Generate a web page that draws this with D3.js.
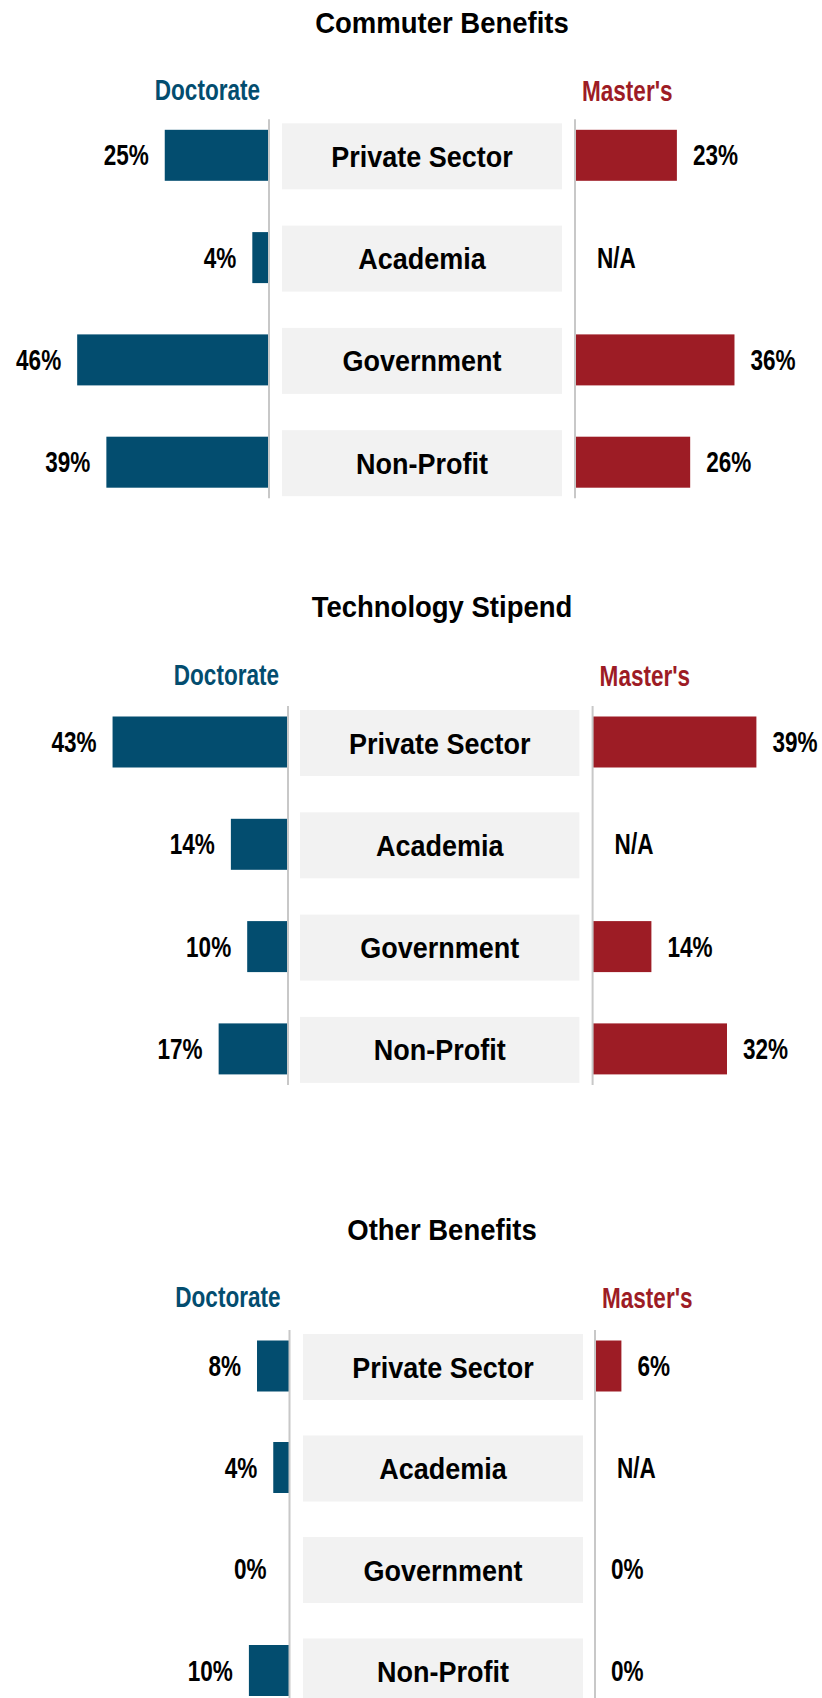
<!DOCTYPE html>
<html>
<head>
<meta charset="utf-8">
<script src="https://cdn.jsdelivr.net/npm/d3@7"></script>
<style>
  html, body { margin: 0; padding: 0; background: #ffffff; }
  svg { display: block; }
</style>
</head>
<body>
<svg id="chart" width="822" height="1698"></svg>
<script>
// Data
const categories = ["Private Sector", "Academia", "Government", "Non-Profit"];
const panelTitles = ["Commuter Benefits", "Technology Stipend", "Other Benefits"];
const seriesNames = ["Doctorate", "Master's"];
const doctorateValues = [
    [25, 4, 46, 39],
    [43, 14, 10, 17],
    [8, 4, 0, 10]
];
const mastersValues = [
    [23, null, 36, 26],
    [39, null, 14, 32],
    [6, null, 0, 0]
];

// Layout of each panel (pixel positions, not data)
const panelLayout = [
    { titleY: 33, headerY: 100, rowTop: 123.3, axisL: 269, axisR: 575, boxL: 282, boxR: 562, pxL: 4.17, pxR: 4.43, pitch: 102.3 },
    { titleY: 617, headerY: 685, rowTop: 710, axisL: 288, axisR: 592.6, boxL: 300, boxR: 579.4, pxL: 4.08, pxR: 4.2, pitch: 102.3 },
    { titleY: 1240, headerY: 1307, rowTop: 1334, axisL: 289.5, axisR: 595, boxL: 303, boxR: 583, pxL: 4.06, pxR: 4.4, pitch: 101.5 }
];

const TITLE_X = 442;
const COLOR_DOC = "#034d6f";
const COLOR_MAS = "#9d1c25";
const BOX_FILL = "#f2f2f2";
const AXIS_COLOR = "#c8c8c8";
const FONT = "'Liberation Sans', Arial, Helvetica, sans-serif";
const NARROW = 0.82;   // horizontal squeeze to mimic Arial Narrow
const TALL = 1.06;     // the reference text is slightly stretched vertically

const svg = d3.select("#chart");
svg.append("rect").attr("width", 822).attr("height", 1698).attr("fill", "#ffffff");

// bold text, scaled around its anchor point
function boldText(g, x, y, anchor, text, fill, size, sx) {
    g.append("text")
        .attr("transform", `translate(${x},${y}) scale(${sx},${TALL})`)
        .attr("text-anchor", anchor)
        .attr("font-family", FONT)
        .attr("font-weight", "bold")
        .attr("font-size", size)
        .attr("fill", fill)
        .text(text);
}

panelTitles.forEach((title, p) => {
    const L = panelLayout[p];
    const g = svg.append("g").attr("class", "panel");
    const docVals = doctorateValues[p];
    const masVals = mastersValues[p];

    const boxH = 66;
    const paddingInner = (L.pitch - boxH) / L.pitch;
    const y = d3.scaleBand()
        .domain(categories)
        .range([L.rowTop, L.rowTop + L.pitch * (categories.length - paddingInner)])
        .paddingInner(paddingInner)
        .paddingOuter(0);

    const xLeft = d3.scaleLinear().domain([0, 100]).range([L.axisL, L.axisL - 100 * L.pxL]);
    const xRight = d3.scaleLinear().domain([0, 100]).range([L.axisR, L.axisR + 100 * L.pxR]);

    // title
    boldText(g, TITLE_X, L.titleY, "middle", title, "#000000", 27.5, 1);

    // series headers
    boldText(g, L.axisL - 9, L.headerY, "end", seriesNames[0], COLOR_DOC, 27.5, NARROW);
    boldText(g, L.axisR + 7, L.headerY + 1, "start", seriesNames[1], COLOR_MAS, 27.5, NARROW);

    // category boxes
    categories.forEach((cat) => {
        g.append("rect")
            .attr("x", L.boxL)
            .attr("y", y(cat))
            .attr("width", L.boxR - L.boxL)
            .attr("height", y.bandwidth())
            .attr("fill", BOX_FILL);

        boldText(g, (L.boxL + L.boxR) / 2, y(cat) + y.bandwidth() / 2 + 10.5,
            "middle", cat, "#000000", 27, 1);
    });

    const barH = 51;

    // Doctorate bars (left)
    categories.forEach((cat, i) => {
        const v = docVals[i];
        const cy = y(cat) + y.bandwidth() / 2 - 1;
        if (v > 0) {
            g.append("rect")
                .attr("x", xLeft(v))
                .attr("y", cy - barH / 2)
                .attr("width", xLeft(0) - xLeft(v))
                .attr("height", barH)
                .attr("fill", COLOR_DOC);
        }
        const lx = v > 0 ? xLeft(v) - 16 : xLeft(0) - 23;
        boldText(g, lx, cy + 10, "end", v === null ? "N/A" : v + "%", "#000000", 27.5, NARROW);
    });

    // Master's bars (right)
    categories.forEach((cat, i) => {
        const v = masVals[i];
        const cy = y(cat) + y.bandwidth() / 2 - 1;
        if (v > 0) {
            g.append("rect")
                .attr("x", xRight(0))
                .attr("y", cy - barH / 2)
                .attr("width", xRight(v) - xRight(0))
                .attr("height", barH)
                .attr("fill", COLOR_MAS);
        }
        const lx = v === null ? xRight(0) + 22 : xRight(v) + 16;
        boldText(g, lx, cy + 10, "start", v === null ? "N/A" : v + "%", "#000000", 27.5, NARROW);
    });

    // vertical axis lines
    const yTop = y.range()[0] - 4;
    const yBot = y.range()[1] + 2;
    [L.axisL, L.axisR].forEach((ax) => {
        g.append("line")
            .attr("x1", ax).attr("x2", ax)
            .attr("y1", yTop).attr("y2", yBot)
            .attr("stroke", AXIS_COLOR)
            .attr("stroke-width", 2);
    });
});
</script>
</body>
</html>
